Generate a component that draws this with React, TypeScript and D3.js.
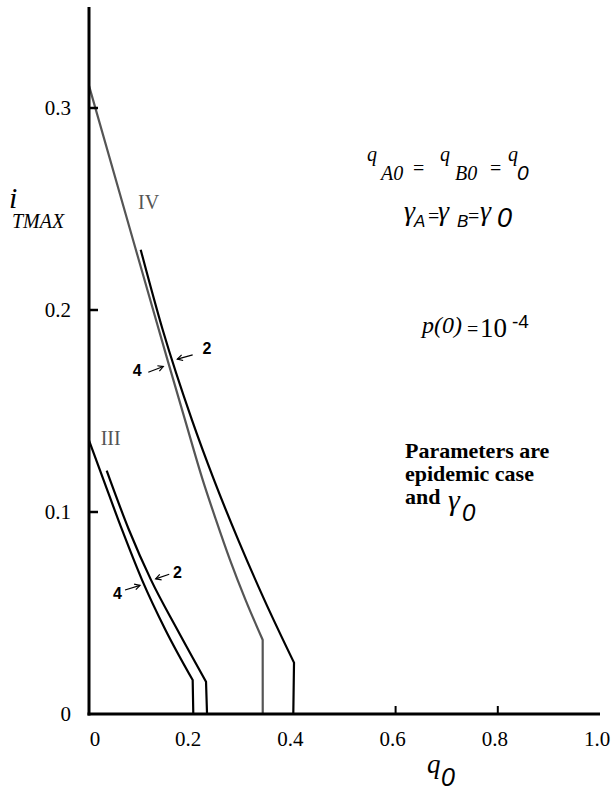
import React from 'react';
import * as d3 from 'd3';

// axis ticks / labels
const xLabelValues = [0, 0.2, 0.4, 0.6, 0.8, 1.0];
const xLabels = ['0', '0.2', '0.4', '0.6', '0.8', '1.0'];
const xTickValues = [0.6, 0.8];
const yLabelValues = [0, 0.1, 0.2, 0.3];
const yLabels = ['0', '0.1', '0.2', '0.3'];
const yTickValues = [0.1, 0.2, 0.3];

// i_TMAX against q0. last point = drop to zero
const curveIV4: [number, number][] = [
  [0, 0.311], [0.0861, 0.2348], [0.1536, 0.1753], [0.1879, 0.1456],
  [0.2225, 0.1159], [0.2485, 0.0961], [0.2759, 0.0763], [0.3063, 0.0565],
  [0.3399, 0.0367], [0.34, 0],
];
const curveIV2: [number, number][] = [
  [0.1012, 0.2298], [0.1442, 0.1902], [0.2014, 0.1456], [0.2446, 0.1159],
  [0.292, 0.0862], [0.3432, 0.0565], [0.4012, 0.0254], [0.3998, 0],
];
const curveIII4: [number, number][] = [
  [0, 0.1354], [0.0284, 0.1159], [0.0648, 0.0911], [0.1037, 0.0664],
  [0.1497, 0.0416], [0.2029, 0.0168], [0.2041, 0],
];
const curveIII2: [number, number][] = [
  [0.0346, 0.1205], [0.0783, 0.0911], [0.1213, 0.0664], [0.1732, 0.0416],
  [0.229, 0.016], [0.231, 0],
];

const curves = [
  { pts: curveIV4, color: '#555555' },
  { pts: curveIV2, color: '#000000' },
  { pts: curveIII4, color: '#000000' },
  { pts: curveIII2, color: '#000000' },
];

// case labels (roman) and curve numbers with arrows, in data units
const romanNotes = [
  { label: 'IV', at: [0.0959, 0.2501] },
  { label: 'III', at: [0.0229, 0.1332] },
];
const arrowNotes = [
  { label: '2', at: [0.231, 0.1813], from: [0.2029, 0.1778], to: [0.1728, 0.1757] },
  { label: '4', at: [0.0943, 0.1701], from: [0.116, 0.1692], to: [0.1454, 0.172] },
  { label: '2', at: [0.1732, 0.0705], from: [0.157, 0.0692], to: [0.1305, 0.0669] },
  { label: '4', at: [0.0558, 0.0599], from: [0.0705, 0.0614], to: [0.0998, 0.0637] },
];

const serif = 'Liberation Serif';
const sans = 'Liberation Sans';

const x = d3.scaleLinear().domain([0, 1]).range([89, 600]);
const y = d3.scaleLinear().domain([0, 0.35]).range([714, 7]);

const line = d3.line<[number, number]>()
  .x(d => x(d[0]))
  .y(d => y(d[1]))
  .curve(d3.curveMonotoneX);

function curvePath(pts: [number, number][]) {
  const end = pts[pts.length - 1];
  return line(pts.slice(0, -1)) + `L${x(end[0])},${y(end[1])}`;
}

function Arrow({ from, to }: { from: number[]; to: number[] }) {
  const x1 = x(from[0]), y1 = y(from[1]), x2 = x(to[0]), y2 = y(to[1]);
  const a = Math.atan2(y2 - y1, x2 - x1);
  const L = 6;
  const w1 = [x2 - L * Math.cos(a - 0.5), y2 - L * Math.sin(a - 0.5)];
  const w2 = [x2 - L * Math.cos(a + 0.5), y2 - L * Math.sin(a + 0.5)];
  return (
    <g stroke="#000" strokeWidth={1.2} fill="none">
      <line x1={x1} y1={y1} x2={x2} y2={y2} />
      <path d={`M${w1[0]},${w1[1]}L${x2},${y2}L${w2[0]},${w2[1]}`} />
    </g>
  );
}

export default function App() {
  return (
    <svg width={613} height={793} style={{ position: 'absolute', left: 0, top: 0, background: '#fff' }}>
      {/* curves */}
      {curves.map((c, i) => (
        <path key={i} d={curvePath(c.pts)} fill="none" stroke={c.color} strokeWidth={2.2} />
      ))}

      {/* axes */}
      <line x1={x(0)} y1={y(0.35)} x2={x(0)} y2={y(0) + 1.5} stroke="#000" strokeWidth={3} />
      <line x1={x(0) - 1.5} y1={y(0)} x2={x(1)} y2={y(0)} stroke="#000" strokeWidth={3} />
      {yTickValues.map(t => (
        <line key={t} x1={x(0)} x2={x(0) + 9} y1={y(t)} y2={y(t)} stroke="#000" strokeWidth={2.5} />
      ))}
      {xTickValues.map(t => (
        <line key={t} x1={x(t)} x2={x(t)} y1={y(0)} y2={y(0) - 8} stroke="#000" strokeWidth={2} />
      ))}
      <g fontFamily={serif} fontSize={21} fill="#000">
        {yLabelValues.map((v, i) => (
          <text key={v} x={71} y={y(v) + 7} textAnchor="end">{yLabels[i]}</text>
        ))}
        {xLabelValues.map((v, i) => (
          <text key={v} x={x(v) + (i === 0 ? 6 : -3)} y={746} textAnchor="middle">{xLabels[i]}</text>
        ))}
      </g>

      {/* axis titles */}
      <text x={9} y={208} fontFamily={serif} fontStyle="italic" fontSize={30}>i</text>
      <text x={12} y={228} fontFamily={serif} fontStyle="italic" fontSize={20}>TMAX</text>
      <text x={427} y={773} fontFamily={serif} fontStyle="italic" fontSize={27}>q</text>
      <text x={441} y={786} fontFamily={sans} fontStyle="italic" fontSize={25}>0</text>

      {/* case labels */}
      {romanNotes.map(n => (
        <text key={n.label} x={x(n.at[0])} y={y(n.at[1])} fontFamily={serif} fontSize={20} fill="#555">{n.label}</text>
      ))}
      {arrowNotes.map((n, i) => (
        <g key={i}>
          <Arrow from={n.from} to={n.to} />
          <text x={x(n.at[0])} y={y(n.at[1]) + 6} textAnchor="middle" fontFamily={sans} fontWeight="bold" fontSize={16}>{n.label}</text>
        </g>
      ))}

      {/* formulas */}
      <g fontFamily={serif} fontStyle="italic">
        <text x={367} y={161} fontSize={20}>q</text>
        <text x={381} y={180} fontSize={20}>A0</text>
        <text x={413} y={175} fontSize={20} fontStyle="normal">=</text>
        <text x={440} y={161} fontSize={20}>q</text>
        <text x={455} y={180} fontSize={20}>B0</text>
        <text x={490} y={175} fontSize={20} fontStyle="normal">=</text>
        <text x={508} y={161} fontSize={20}>q</text>
        <text x={517} y={180} fontSize={21} fontFamily={sans}>0</text>

        <text x={404} y={220} fontSize={28}>γ</text>
        <text x={414} y={227} fontSize={17} fontFamily={sans}>A</text>
        <text x={428} y={223} fontSize={20} fontStyle="normal">=</text>
        <text x={438} y={220} fontSize={28}>γ</text>
        <text x={457} y={227} fontSize={17} fontFamily={sans}>B</text>
        <text x={468} y={223} fontSize={20} fontStyle="normal">=</text>
        <text x={480} y={220} fontSize={28}>γ</text>
        <text x={497} y={227} fontSize={27} fontFamily={sans}>0</text>

        <text x={422} y={333} fontSize={24}>p(0)</text>
        <text x={467} y={336} fontSize={20} fontStyle="normal">=</text>
        <text x={480} y={337} fontSize={27} fontStyle="normal">10</text>
        <text x={512} y={328} fontSize={19} fontStyle="normal" fontFamily={sans}>-4</text>
      </g>

      <g fontFamily={serif} fontWeight="bold" fontSize={22}>
        <text x={405} y={458}>Parameters are</text>
        <text x={405} y={481}>epidemic case</text>
        <text x={405} y={504}>and</text>
      </g>
      <text x={448} y={510} fontFamily={serif} fontStyle="italic" fontSize={30}>γ</text>
      <text x={462} y={521} fontFamily={sans} fontStyle="italic" fontSize={24}>0</text>
    </svg>
  );
}
